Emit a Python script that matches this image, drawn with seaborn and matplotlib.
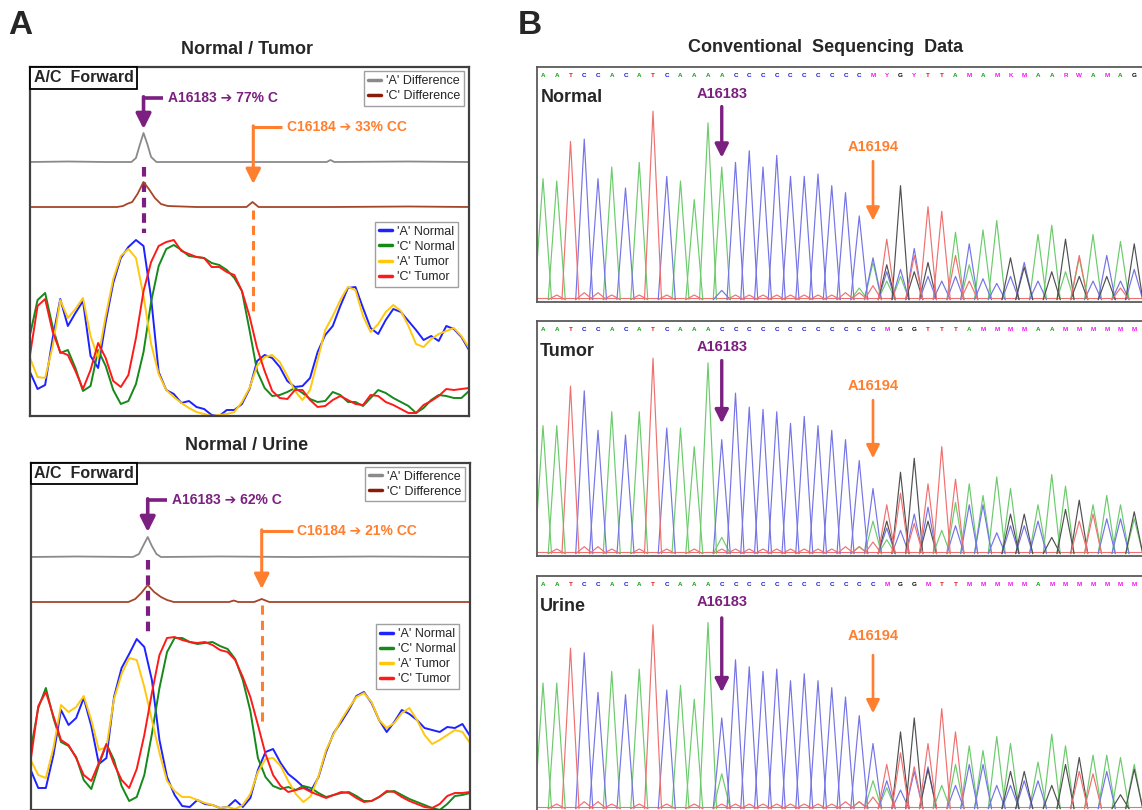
import numpy as np
import pandas as pd
import matplotlib
matplotlib.use("Agg")
import matplotlib.pyplot as plt
from matplotlib.lines import Line2D
import seaborn as sns

# ---------------- panel A: A/C forward traces (sample index 0..58, arbitrary signal units)
TRACE_NAMES = ["'A' Normal", "'C' Normal", "'A' Tumor", "'C' Tumor"]

tumor_a_normal = [44, 27, 31, 78, 117, 90, 103, 115, 60, 48, 94, 133, 158, 169, 176, 170, 118, 44, 26, 22,
                  13, 15, 9, 7, 1, 0, 6, 6, 12, 27, 55, 61, 58, 49, 35, 29, 30, 38, 64, 81,
                  90, 110, 128, 129, 108, 88, 82, 96, 107, 104, 95, 86, 76, 80, 75, 90, 87, 79, 66]
tumor_c_normal = [81, 116, 123, 89, 63, 66, 48, 25, 30, 66, 50, 26, 12, 15, 32, 64, 114, 150, 167, 171,
                  166, 160, 159, 158, 153, 151, 146, 138, 125, 86, 45, 28, 20, 21, 24, 28, 23, 17, 14, 15,
                  24, 21, 14, 14, 10, 18, 26, 23, 18, 14, 10, 3, 8, 16, 21, 20, 18, 18, 25]
tumor_a_tumor = [58, 39, 38, 70, 116, 98, 107, 118, 80, 58, 100, 137, 160, 167, 158, 120, 72, 42, 26, 19,
                 13, 8, 4, 2, 0, 1, 2, 4, 14, 28, 50, 59, 61, 54, 40, 25, 16, 26, 56, 86,
                 100, 116, 129, 126, 100, 84, 92, 104, 111, 105, 90, 72, 69, 77, 82, 85, 88, 80, 68]
tumor_c_tumor = [61, 110, 117, 84, 64, 61, 45, 27, 46, 73, 58, 35, 29, 41, 78, 125, 154, 170, 174, 176,
                 165, 162, 159, 158, 149, 149, 144, 141, 125, 100, 68, 45, 25, 18, 17, 26, 26, 16, 9, 10,
                 16, 20, 16, 12, 11, 21, 20, 14, 11, 7, 3, 3, 11, 15, 20, 27, 26, 27, 28]

urine_a_normal = [40, 22, 22, 55, 100, 85, 92, 112, 84, 46, 52, 113, 142, 156, 171, 163, 130, 70, 33, 15,
                  4, 3, 10, 6, 5, 2, 3, 10, 3, 12, 40, 58, 61, 47, 36, 30, 23, 19, 33, 58,
                  77, 88, 100, 114, 118, 107, 90, 78, 88, 100, 96, 90, 82, 80, 78, 83, 82, 86, 74]
urine_c_normal = [60, 102, 122, 92, 68, 64, 53, 30, 21, 45, 66, 50, 24, 9, 13, 35, 76, 122, 158, 172,
                  172, 168, 166, 167, 168, 164, 161, 151, 130, 99, 52, 33, 24, 21, 23, 20, 24, 22, 17, 13,
                  15, 17, 18, 14, 9, 9, 13, 18, 19, 15, 11, 8, 5, 2, 0, 6, 14, 15, 17]
urine_a_tumor = [50, 35, 32, 62, 105, 98, 103, 114, 90, 60, 63, 111, 136, 152, 150, 123, 90, 57, 29, 19,
                 13, 13, 10, 7, 5, 2, 3, 1, 5, 16, 38, 51, 52, 44, 29, 16, 8, 14, 34, 60,
                 76, 90, 102, 113, 117, 108, 90, 82, 87, 97, 102, 90, 75, 66, 70, 75, 80, 78, 67]
urine_c_tumor = [50, 104, 118, 94, 70, 65, 52, 35, 29, 47, 66, 46, 30, 22, 41, 75, 117, 155, 172, 173,
                 170, 168, 167, 168, 165, 160, 158, 150, 133, 113, 85, 56, 35, 24, 18, 20, 22, 18, 15, 12,
                 15, 18, 17, 12, 8, 9, 13, 19, 18, 13, 9, 6, 3, 2, 6, 14, 17, 17, 18]

# difference traces (sample position, signal)
tumor_gray_x = [0, 5, 10, 13.4, 14.0, 14.5, 15.0, 15.5, 16.0, 16.7, 20, 30, 39.2, 39.7, 40.2, 50, 58]
tumor_gray_y = [254, 254.5, 254, 254, 258, 271, 283, 272, 259, 254, 254, 254, 254, 256, 254, 254.5, 254]
tumor_brown_x = [0, 8, 11.5, 12.3, 12.8, 13.5, 14.2, 15.0, 15.7, 16.5, 17.3, 18.2, 22, 28.6, 29.4, 30.2, 40, 50, 58]
tumor_brown_y = [209, 209, 209, 210, 212, 214, 222, 234, 227, 218, 212, 210, 209, 209, 214, 209, 209, 209.5, 209]
urine_gray_x = [0, 6, 13.5, 14.3, 14.9, 15.45, 16.0, 16.6, 17.2, 25, 35, 45, 58]
urine_gray_y = [253, 253.5, 253, 256, 265, 273, 264, 256, 253, 253.5, 253, 253.5, 253]
urine_brown_x = [0, 10, 12.9, 13.8, 14.6, 15.45, 16.3, 17.2, 18.0, 18.9, 26.2, 26.8, 27.4, 29.5, 30.5, 31.5, 40, 58]
urine_brown_y = [208, 208, 208, 211, 217, 225, 218, 213, 210, 208, 208, 209.5, 208, 208, 211, 208, 208, 208]

tumor_labels = ["A16183 \u2794 77% C", "C16184 \u2794 33% CC"]
urine_labels = ["A16183 \u2794 62% C", "C16184 \u2794 21% CC"]

# ---------------- panel B: chromatogram peak heights (fraction of panel), one value per base position
normal_A = [.52, .51, 0, 0, 0, .57, 0, .59, 0, 0, .51, .43, .76, .57, 0, 0, 0, 0, 0, 0, 0, 0,
            0, .05, .16, .08, .10, 0, 0, 0, .29, .15, .30, .34, 0, 0, .28, .32, .12, .18, .28, 0, .25, 0]
normal_C = [0, 0, 0, .69, .52, 0, .48, 0, 0, .53, 0, 0, 0, .04, .59, .64, .57, .62, .53, .53, .54, .49,
            .46, .36, .18, .12, .13, .22, .10, .08, .10, .24, .09, .07, .10, .16, .08, 0, 0, 0, .08, .19, .08, .13]
normal_G = [0] * 25 + [.15, .49, .12, .16, 0, 0, 0, 0, 0, .18, .14, 0, .12, .26, .10, 0, .10, 0, .24]
normal_T = [0, .02, .68, .03, .03, .02, 0, .02, .81, .02, 0, .02, 0, 0, .02, .02, .02, .02, .02, .02, .02, .02,
            .03, .03, .06, .26, 0, .19, .40, .38, .19, .08, 0, 0, 0, 0, 0, 0, 0, .19, 0, 0, .05, 0]

tumor_A = [.55, .55, 0, 0, 0, .61, 0, .61, 0, 0, .54, .46, .82, .07, 0, 0, 0, 0, 0, 0, 0, 0,
           0, .03, .14, .06, 0, 0, 0, .10, .22, .30, .25, .33, .28, 0, .21, .34, .29, 0, .21, .25, .21, .15]
tumor_C = [0, 0, 0, .70, .53, 0, .51, 0, 0, .54, 0, 0, 0, .49, .69, .63, .62, .61, .56, .59, .55, .53,
           .49, .40, .28, .11, .10, .17, .20, 0, .12, .21, .21, .09, .12, .12, .14, 0, 0, 0, 0, .15, .15, 0]
tumor_G = [0] * 25 + [.14, .35, .41, .14, 0, 0, 0, 0, 0, .17, .17, 0, .07, .19, .23, 0, 0, 0, .18]
tumor_T = [0, .02, .72, .03, .03, .02, 0, .02, .84, .02, 0, .02, 0, .02, .02, .02, .02, .02, .02, .02, .02, .02,
           .03, .03, .05, .21, .26, .13, .30, .46, .32, 0, 0, 0, 0, 0, 0, 0, 0, .14, .17, 0, 0, 0]

urine_A = [.54, .54, 0, 0, 0, .59, 0, .60, 0, 0, .53, .47, .80, .15, 0, 0, 0, 0, 0, 0, 0, 0,
           0, .03, .12, .09, 0, 0, 0, .10, .19, .27, .25, .31, .28, 0, .20, .32, .27, 0, .23, .23, .22, .19]
urine_C = [0, 0, 0, .67, .50, 0, .49, 0, 0, .51, 0, 0, 0, .39, .64, .61, .59, .60, .55, .58, .55, .52,
           .48, .40, .28, .12, .08, .16, .18, 0, .10, .19, .19, .10, .10, .12, .12, 0, 0, 0, 0, .16, 0, 0]
urine_G = [0] * 26 + [.33, .39, .17, 0, 0, 0, 0, 0, .16, .16, 0, .10, .19, .22, 0, 0, .06, .17]
urine_T = [0, .02, .69, .03, .03, .02, 0, .02, .79, .02, 0, .02, 0, .02, .02, .02, .02, .02, .02, .02, .02, .02,
           .03, .03, .05, .19, .24, .18, .28, .43, .33, 0, 0, 0, 0, 0, 0, 0, 0, .16, .15, 0, 0, 0]

normal_calls = "AATCCACATCAAAACCCCCCCCCC" + "MYGYTTAMAMKMAARWAMAG"
tumor_calls = "AATCCACATCAAACCCCCCCCCCC" + "CMGGTTTAMMMMAAMMMMMM"
urine_calls = "AATCCACATCAAACCCCCCCCCCC" + "CMGGMTTMMMMMAMMMMMMM"

# ---------------- style
sns.set_style("white")
plt.rcParams["font.family"] = ["Liberation Sans", "DejaVu Sans"]

TRACE_COLORS = dict(zip(TRACE_NAMES, ["#1e22ff", "#16891b", "#ffc80f", "#ff1a1a"]))
GRAY = "#8a8a8a"
BROWN = "#a5452a"
PURPLE = "#7b1f80"
ORANGE = "#ff7f2f"
BASE_COLORS = {"A": "#6ccb6c", "C": "#7474e6", "G": "#505050", "T": "#f07070"}
CALL_COLORS = {"A": "#12a012", "C": "#1212d0", "G": "#000000", "T": "#e01212"}
PEAK_HALF = 0.62

W, H = 1142, 810
fig = plt.figure(figsize=(W / 100, H / 100), dpi=100)


def px_axes(x0, y0, x1, y1):
    return fig.add_axes([x0 / W, 1 - y1 / H, (x1 - x0) / W, (y1 - y0) / H])


def draw_ac(ax, curves, gray, brown, labels, ann, ytop):
    df = pd.DataFrame(dict(zip(TRACE_NAMES, curves)))
    df["pos"] = np.arange(len(df))
    long = df.melt(id_vars="pos", var_name="trace", value_name="signal")

    # dashed guide lines behind the traces
    ax.plot([ann["px"], ann["px"]], ann["pdash"], color=PURPLE, lw=3, dashes=(2.3, 1.4), zorder=1)
    ax.plot([ann["ox"], ann["ox"]], ann["odash"], color=ORANGE, lw=2.2, dashes=(3.0, 2.0), zorder=1)

    sns.lineplot(x=gray[0], y=gray[1], color=GRAY, lw=1.3, ax=ax)
    sns.lineplot(x=brown[0], y=brown[1], color=BROWN, lw=1.3, ax=ax)
    sns.lineplot(data=long, x="pos", y="signal", hue="trace", hue_order=TRACE_NAMES,
                 palette=TRACE_COLORS, estimator=None, sort=False, lw=1.4, legend=False, ax=ax)

    # elbow arrows + labels
    for key, col, lw in (("p", PURPLE, 2.6), ("o", ORANGE, 2.2)):
        x, h, tip, tx = ann[key + "x"], ann[key + "h"], ann[key + "tip"], ann[key + "tx"]
        ax.plot([tx - 0.6, x], [h, h], color=col, lw=lw, solid_capstyle="butt")
        ax.annotate("", xy=(x, tip), xytext=(x, h + 1.2),
                    arrowprops=dict(arrowstyle="-|>,head_length=0.9,head_width=0.45",
                                    color=col, lw=lw, shrinkA=0, shrinkB=0))
    ax.text(ann["ptx"], ann["ph"], labels[0], color=PURPLE, fontsize=10, fontweight="bold",
            ha="left", va="center")
    ax.text(ann["otx"], ann["oh"], labels[1], color=ORANGE, fontsize=10, fontweight="bold",
            ha="left", va="center")

    ax.text(0.008, 0.99, "A/C  Forward", transform=ax.transAxes, ha="left", va="top",
            fontsize=11.5, fontweight="bold",
            bbox=dict(boxstyle="square,pad=0.2", fc="white", ec="black", lw=1.3))

    leg_kw = dict(loc="upper right", frameon=True, fancybox=False, framealpha=1, edgecolor="#a0a0a0",
                  fontsize=9, handlelength=1.0, handletextpad=0.4, borderpad=0.3,
                  labelspacing=0.25, borderaxespad=0)
    diff_handles = [Line2D([], [], color=GRAY, lw=2.5), Line2D([], [], color="#8b1c0a", lw=2.5)]
    leg1 = ax.legend(diff_handles, ["'A' Difference", "'C' Difference"],
                     bbox_to_anchor=(0.988, 0.988), **leg_kw)
    ax.add_artist(leg1)
    trace_handles = [Line2D([], [], color=TRACE_COLORS[n], lw=2.5) for n in TRACE_NAMES]
    ax.legend(trace_handles, TRACE_NAMES, bbox_to_anchor=(0.975, ann["leg2"]), **leg_kw)

    ax.set_xlim(0, 58)
    ax.set_ylim(0, ytop)
    ax.set(xticks=[], yticks=[], xlabel="", ylabel="")
    for s in ax.spines.values():
        s.set_color("#404040")
        s.set_linewidth(1.6)


def chrom_frame(heights):
    rows = []
    for base, hs in zip("ACGT", heights):
        for i, h in enumerate(hs):
            if h <= 0:
                continue
            for dx, yy in ((-PEAK_HALF, 0.0), (0.0, h), (PEAK_HALF, 0.0)):
                rows.append({"base": base, "peak": f"{base}{i}", "pos": i + dx, "signal": yy})
    return pd.DataFrame(rows)


def draw_chrom(ax, heights, calls, name, marks):
    df = chrom_frame(heights)
    ax.axhline(0.006, color=BASE_COLORS["T"], lw=0.8, zorder=1)
    sns.lineplot(data=df, x="pos", y="signal", hue="base", units="peak", estimator=None, sort=False,
                 palette=BASE_COLORS, lw=0.85, legend=False, ax=ax)
    for i, ch in enumerate(calls):
        ax.text(i, 0.962, ch, color=CALL_COLORS.get(ch, "#f010f0"), fontsize=4.5,
                fontweight="bold", ha="center", va="center")
    ax.text(-0.2, 0.87, name, fontsize=13, fontweight="bold", ha="left", va="center")

    for (x, lab_y, top, tip), col, lw in ((marks[0], PURPLE, 2.4), (marks[1], ORANGE, 1.9)):
        label = "A16183" if col == PURPLE else "A16194"
        ax.text(x, lab_y, label, color=col, fontsize=10.5, fontweight="bold", ha="center", va="center")
        ax.annotate("", xy=(x, tip), xytext=(x, top),
                    arrowprops=dict(arrowstyle="-|>,head_length=0.8,head_width=0.4",
                                    color=col, lw=lw, shrinkA=0, shrinkB=0))

    ax.set_xlim((537 - 543) / 13.75, (1143 - 543) / 13.75)
    ax.set_ylim(-0.01, 1.0)
    ax.set(xticks=[], yticks=[], xlabel="", ylabel="")
    for s in ax.spines.values():
        s.set_color("#5a5a5a")
        s.set_linewidth(1.3)


# ---- panel A
ax_t = px_axes(30, 67, 469, 416)
draw_ac(ax_t, [tumor_a_normal, tumor_c_normal, tumor_a_tumor, tumor_c_tumor],
        (tumor_gray_x, tumor_gray_y), (tumor_brown_x, tumor_brown_y), tumor_labels,
        dict(px=15.0, pdash=(249, 183), ph=318, ptip=287, ptx=18.2,
             ox=29.5, odash=(206, 101), oh=289, otip=232, otx=33.9, leg2=0.556), 349)

ax_u = px_axes(30.7, 462.7, 470, 810)
draw_ac(ax_u, [urine_a_normal, urine_c_normal, urine_a_tumor, urine_c_tumor],
        (urine_gray_x, urine_gray_y), (urine_brown_x, urine_brown_y), urine_labels,
        dict(px=15.45, pdash=(250, 177), ph=310, ptip=278, ptx=18.6,
             ox=30.5, odash=(205, 85), oh=279, otip=221, otx=35.2, leg2=0.535), 347.3)

fig.text(247 / W, 1 - 50 / H, "Normal / Tumor", ha="center", va="center", fontsize=13, fontweight="bold")
fig.text(247 / W, 1 - 445 / H, "Normal / Urine", ha="center", va="center", fontsize=13, fontweight="bold")
fig.text(8 / W, 1 - 25 / H, "A", ha="left", va="center", fontsize=24, fontweight="bold")

# ---- panel B
ax_n = px_axes(537, 67, 1143, 302)
draw_chrom(ax_n, [normal_A, normal_C, normal_G, normal_T], normal_calls, "Normal",
           [(13, 0.885, 0.83, 0.61), (24, 0.655, 0.595, 0.34)])
ax_tb = px_axes(537, 321, 1143, 556)
draw_chrom(ax_tb, [tumor_A, tumor_C, tumor_G, tumor_T], tumor_calls, "Tumor",
           [(13, 0.89, 0.83, 0.56), (24, 0.72, 0.66, 0.41)])
ax_ub = px_axes(537, 576, 1143, 811)
draw_chrom(ax_ub, [urine_A, urine_C, urine_G, urine_T], urine_calls, "Urine",
           [(13, 0.89, 0.82, 0.50), (24, 0.74, 0.66, 0.41)])

fig.text(826 / W, 1 - 48 / H, "Conventional  Sequencing  Data", ha="center", va="center",
         fontsize=13, fontweight="bold")
fig.text(518 / W, 1 - 25 / H, "B", ha="left", va="center", fontsize=24, fontweight="bold")

fig.savefig("out.png", dpi=100)
